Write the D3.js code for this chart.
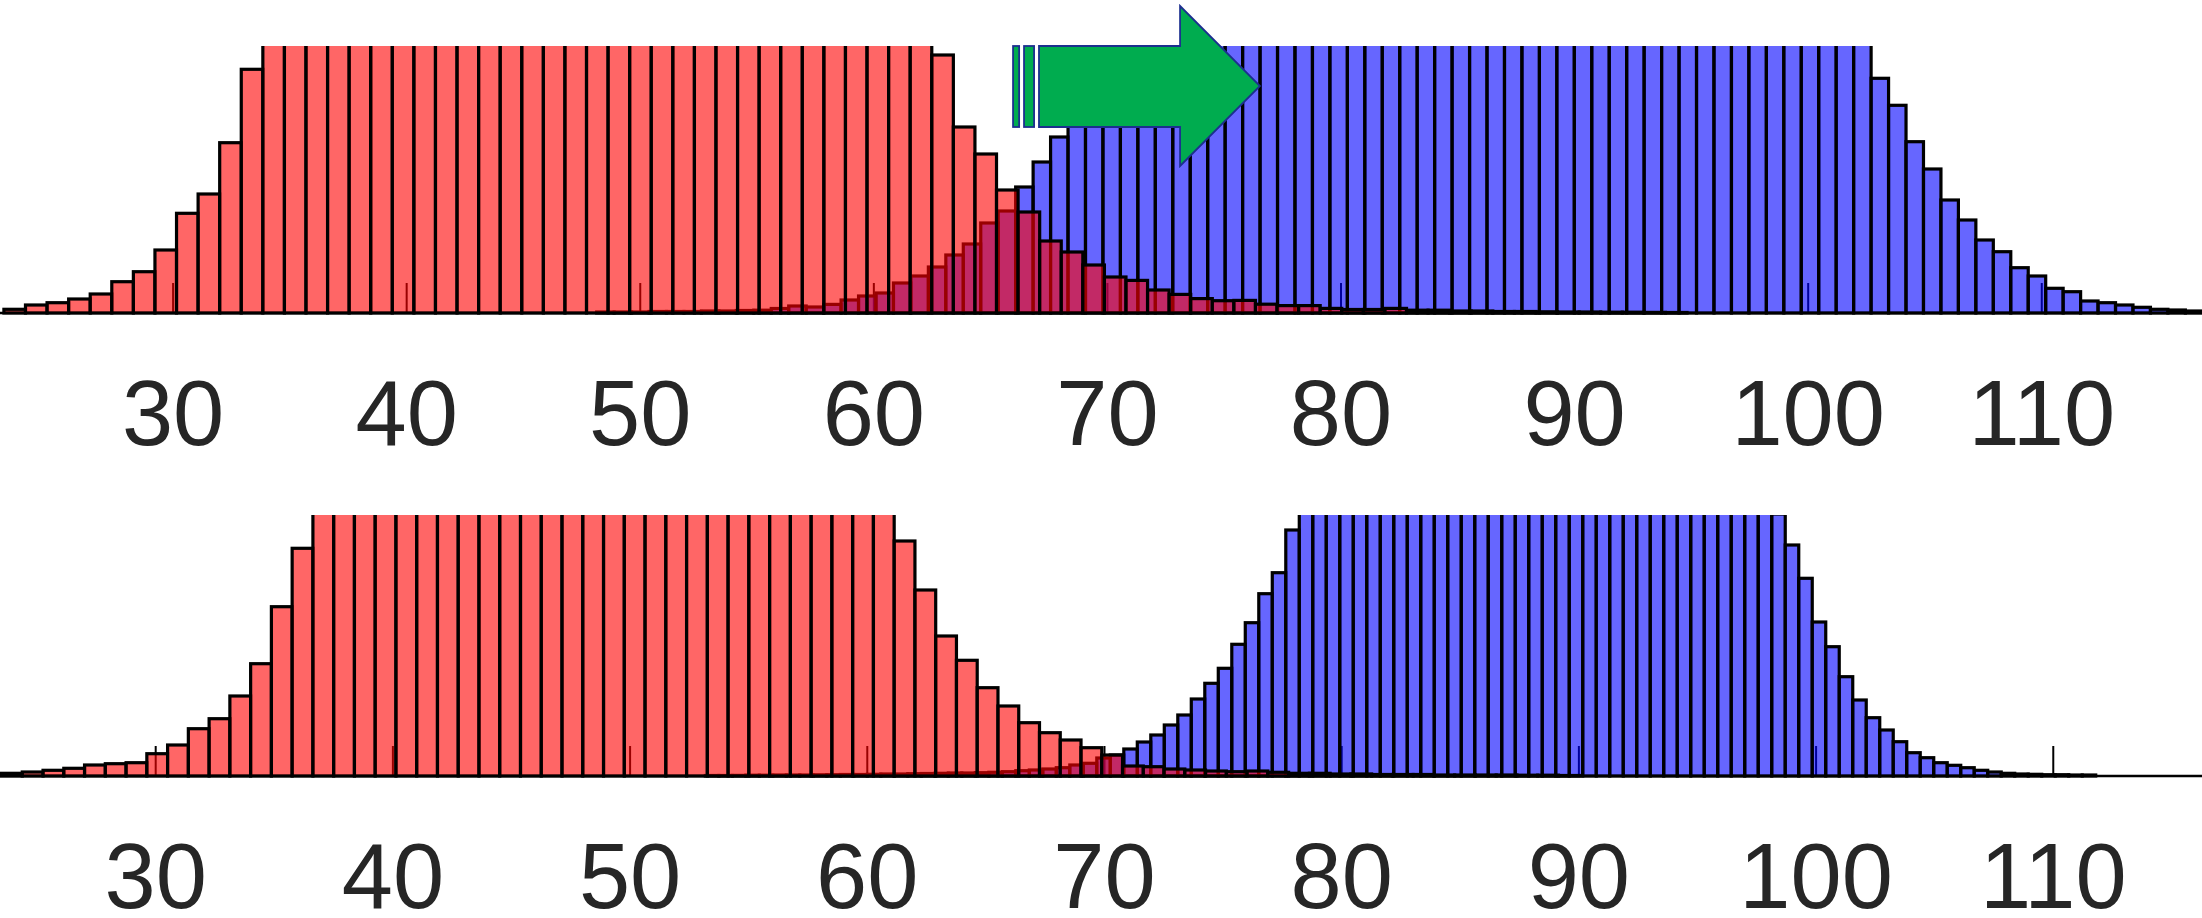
<!DOCTYPE html>
<html>
<head>
<meta charset="utf-8">
<script src="https://cdn.jsdelivr.net/npm/d3@7"></script>
<style>
  body { margin: 0; background: #fff; overflow: hidden; }
</style>
</head>
<body>
<script>
// 目盛りラベル
const tickValues = [30, 40, 50, 60, 70, 80, 90, 100, 110];

// 上段: x軸の範囲と縦軸の上限 (上限を超える棒は切れる)
const topXDomain = [22.59, 116.86];
const topYMax = 267;

// 上段 赤ヒストグラム (ビン左端, ビン幅, 度数)
const topRedStart = 22.757;
const topRedWidth = 0.9238;
const topRedCounts = [
    3.7, 8, 10.3, 14, 19, 31.3, 41.3, 63, 99.7, 119, 170.3, 243.7,
    290, 315, 340, 360, 385, 400, 420, 435, 445, 455, 462, 468, 470, 472, 470, 468,
    465, 460, 452, 445, 435, 425, 412, 398, 385, 370, 352, 335, 318, 300, 280,
    258, 186, 159, 123, 101, 72, 61, 48, 36, 32.6, 23, 18.6, 14.4, 12.3, 12.6, 8.8,
    7.4, 7.4, 4.6, 3.5, 3.5, 4.6, 2.8, 2.8, 2, 2, 1.5, 1.5, 1.2, 1, 1, 0.8, 0.8, 0.6, 0.5
];

// 上段 青ヒストグラム
const topBlueStart = 48.134;
const topBlueWidth = 0.7474;
const topBlueCounts = [
    1, 1, 1, 1.5, 1.5, 1.5, 2, 2, 2.5, 2.8, 4.5, 7, 6, 8.6, 13, 17, 20, 30, 37, 46,
    58, 69, 90, 102, 126, 151, 176,
    285, 300, 318, 335, 350, 365, 380, 392, 403, 412, 420, 428, 434, 440, 444, 448,
    451, 453, 455, 456, 457, 457, 456, 455, 453, 451, 448, 444, 440, 435, 430, 424,
    417, 410, 402, 393, 384, 374, 363, 351, 339, 326, 313, 300, 288, 276,
    234.7, 207.7, 171.3, 144, 113, 93, 73, 61.3, 45.3, 37, 24.7, 21.3, 12, 10.3, 8,
    5.7, 3.7, 3, 2
];

// 下段: x軸の範囲と縦軸の上限
const bottomXDomain = [23.436, 116.27];
const bottomYMax = 261;

// 下段 赤ヒストグラム
const bottomRedStart = 23.5;
const bottomRedWidth = 0.8752;
const bottomRedCounts = [
    2.7, 4, 5.7, 7.7, 11, 12.3, 13.3, 22.3, 31, 47.3, 57.3, 80, 112.3, 169.3, 227.7,
    280, 305, 330, 352, 372, 390, 405, 418, 428, 436, 442, 446, 448, 449, 448, 446,
    442, 436, 428, 418, 406, 392, 377, 360, 342, 322, 300, 275,
    235, 186, 140, 115.7, 88.3, 70, 53.3, 43.3, 36, 28.3, 21, 10, 9.3, 7, 6, 5, 4.3,
    5, 3.7, 2.7, 2.7, 2, 2, 1.5, 1.5, 1.5, 1, 1, 1, 1, 0.8, 0.8, 0.5
];

// 下段 青ヒストグラム
const bottomBlueStart = 53.172;
const bottomBlueWidth = 0.5691;
const bottomBlueCounts = [
    0.5, 0.5, 0.6, 0.8, 0.8, 1, 1, 1, 1.2, 1.3, 1.5, 1.5, 1.7, 2, 2, 2.3, 2.5, 2.7,
    3, 3, 3.3, 3.7, 4.3, 5.3, 6, 7, 8.3, 11, 12.7, 18, 21,
    27, 34, 41, 51, 61, 77, 92.7, 107.7, 131.7, 153.3, 182.3, 203.3, 246,
    270, 290, 310, 328, 345, 360, 374, 386, 397, 406, 414, 420, 425, 429, 432, 434,
    435, 435, 434, 432, 429, 425, 420, 414, 406, 397, 386, 374, 360, 345, 328, 310,
    295, 280, 268, 262,
    231, 197.7, 154, 129.3, 99.3, 76, 58.3, 46, 34.3, 23.3, 18.3, 13.3, 10.7, 8.3,
    5.7, 4, 2.7, 2, 1.7, 1.3, 1.3, 1, 1
];

// 緑の矢印 (上段のデータ座標: x値, 度数)
const arrowStripes = [[65.96, 66.22], [66.43, 66.86]];
const arrowBody = {x0: 67.07, x1: 73.11, y0: 186, y1: 267};
const arrowHead = {x0: 73.11, tip: 76.53, yLow: 147, yHigh: 307, yTip: 227};

const width = 2202;
const height = 918;

const svg = d3.select("body").append("svg")
    .attr("width", width)
    .attr("height", height)
    .style("display", "block");

// ビン配列を作る
const makeBins = (start, w, counts) => counts.map((c, i) => ({
    x0: start + i * w,
    x1: start + (i + 1) * w,
    count: c
}));

const drawPanel = (id, opt) => {
    const xScale = d3.scaleLinear().domain(opt.xDomain).range([0, width]);
    const yScale = d3.scaleLinear().domain([0, opt.yMax]).range([opt.baseY, opt.topY]);

    const g = svg.append("g").attr("class", id);

    // 上限で棒を切るためのクリップ
    svg.append("clipPath")
        .attr("id", id + "-clip")
        .append("rect")
        .attr("x", 0)
        .attr("y", opt.topY)
        .attr("width", width)
        .attr("height", opt.baseY - opt.topY + 6);

    // 軸の線と目盛り (棒の下に描く)
    g.append("line")
        .attr("x1", 0).attr("x2", width)
        .attr("y1", opt.baseY).attr("y2", opt.baseY)
        .attr("stroke", "#000")
        .attr("stroke-width", 2.5);

    g.selectAll(".tick")
        .data(tickValues)
        .enter()
        .append("line")
        .attr("class", "tick")
        .attr("x1", d => xScale(d)).attr("x2", d => xScale(d))
        .attr("y1", opt.baseY).attr("y2", opt.baseY - 30)
        .attr("stroke", "#000")
        .attr("stroke-width", 2);

    const bars = g.append("g").attr("clip-path", `url(#${id}-clip)`);

    // 青を先に、赤を上に重ねる (FaceAlpha 0.6)
    [
        {bins: opt.blue, color: "#0000ff"},
        {bins: opt.red, color: "#ff0000"}
    ].forEach(s => {
        bars.append("g")
            .selectAll("rect")
            .data(s.bins)
            .enter()
            .append("rect")
            .attr("x", d => xScale(d.x0))
            .attr("width", d => xScale(d.x1) - xScale(d.x0))
            .attr("y", d => yScale(d.count))
            .attr("height", d => opt.baseY - yScale(d.count))
            .attr("fill", s.color)
            .attr("fill-opacity", 0.6)
            .attr("stroke", "#000")
            .attr("stroke-width", 3.2);
    });

    // 目盛りラベル
    g.selectAll(".tickLabel")
        .data(tickValues)
        .enter()
        .append("text")
        .attr("class", "tickLabel")
        .attr("x", d => xScale(d))
        .attr("y", opt.labelY)
        .attr("text-anchor", "middle")
        .attr("font-family", "'Liberation Sans', Arial, Helvetica, sans-serif")
        .attr("font-size", 92)
        .attr("fill", "#262626")
        .text(d => d);

    return {xScale, yScale};
};

const topScales = drawPanel("topPanel", {
    xDomain: topXDomain, yMax: topYMax, baseY: 313, topY: 46, labelY: 445,
    red: makeBins(topRedStart, topRedWidth, topRedCounts),
    blue: makeBins(topBlueStart, topBlueWidth, topBlueCounts)
});

drawPanel("bottomPanel", {
    xDomain: bottomXDomain, yMax: bottomYMax, baseY: 776, topY: 515, labelY: 908,
    red: makeBins(bottomRedStart, bottomRedWidth, bottomRedCounts),
    blue: makeBins(bottomBlueStart, bottomBlueWidth, bottomBlueCounts)
});

/*** 矢印 ***/
const ax = topScales.xScale;
const ay = topScales.yScale;
const arrowG = svg.append("g").attr("class", "arrow");

arrowG.selectAll(".stripe")
    .data(arrowStripes)
    .enter()
    .append("rect")
    .attr("class", "stripe")
    .attr("x", d => ax(d[0]))
    .attr("width", d => ax(d[1]) - ax(d[0]))
    .attr("y", ay(arrowBody.y1))
    .attr("height", ay(arrowBody.y0) - ay(arrowBody.y1))
    .attr("fill", "#00ac4f")
    .attr("stroke", "#1c2f8f")
    .attr("stroke-width", 1.8);

const arrowPts = [
    [arrowBody.x0, arrowBody.y1],
    [arrowHead.x0, arrowBody.y1],
    [arrowHead.x0, arrowHead.yHigh],
    [arrowHead.tip, arrowHead.yTip],
    [arrowHead.x0, arrowHead.yLow],
    [arrowHead.x0, arrowBody.y0],
    [arrowBody.x0, arrowBody.y0]
];

arrowG.append("polygon")
    .attr("points", arrowPts.map(p => `${ax(p[0])},${ay(p[1])}`).join(" "))
    .attr("fill", "#00ac4f")
    .attr("stroke", "#1c2f8f")
    .attr("stroke-width", 1.8)
    .attr("stroke-linejoin", "miter");
</script>
</body>
</html>
